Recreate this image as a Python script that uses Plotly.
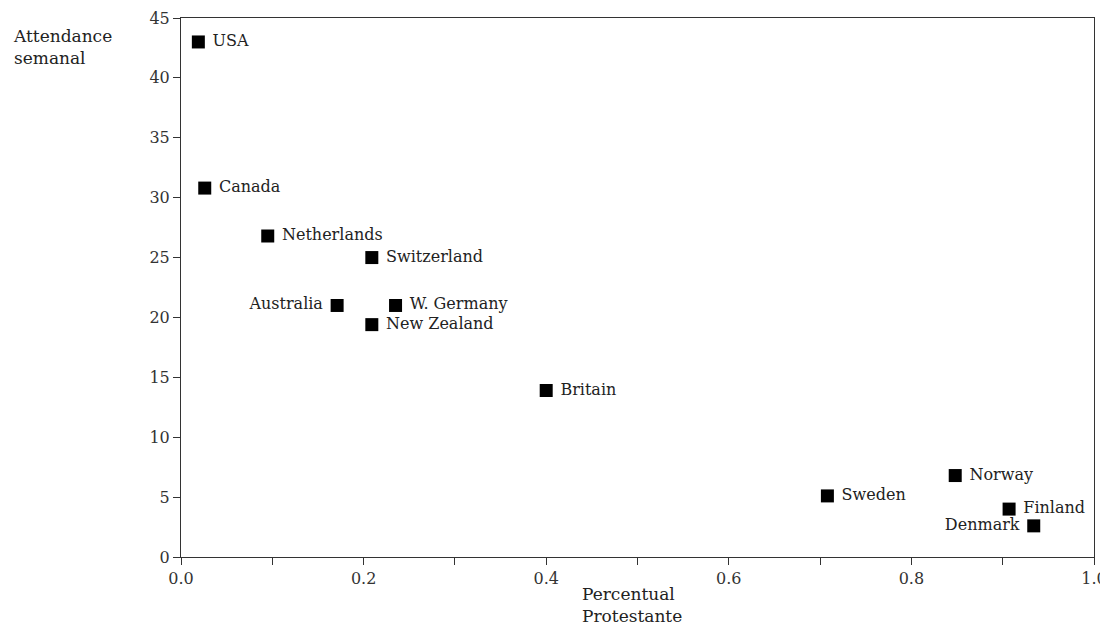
import plotly.graph_objects as go

countries = ["USA", "Canada", "Netherlands", "Switzerland", "Australia", "W. Germany",
             "New Zealand", "Britain", "Sweden", "Norway", "Finland", "Denmark"]
protestant_share = [0.019, 0.026, 0.095, 0.209, 0.171, 0.235, 0.209, 0.400, 0.708, 0.848, 0.907, 0.934]
weekly_attendance = [43.0, 30.8, 26.8, 25.0, 21.0, 21.0, 19.4, 13.9, 5.1, 6.8, 4.0, 2.6]

x_ticks = [0.0, 0.2, 0.4, 0.6, 0.8, 1.0]
x_tick_labels = ["0.0", "0.2", "0.4", "0.6", "0.8", "1.0"]
y_ticks = [0, 5, 10, 15, 20, 25, 30, 35, 40, 45]

left_labels = {"Australia", "Denmark"}
positions = ["middle left" if c in left_labels else "middle right" for c in countries]
texts = [c + " " if c in left_labels else " " + c for c in countries]

FONT = "DejaVu Serif"
FS = 16

fig = go.Figure()
fig.add_trace(go.Scatter(
    x=protestant_share, y=weekly_attendance, mode="markers+text",
    text=texts, textposition=positions,
    marker=dict(symbol="square", size=13, color="black"),
    textfont=dict(family=FONT, size=FS, color="#222"),
    cliponaxis=False, showlegend=False,
))

minor_vals = [round(i / 10, 1) for i in range(11)]
axis_common = dict(showgrid=False, zeroline=False, showline=True, linecolor="#333",
                   linewidth=1, mirror=True, ticks="outside", ticklen=7, tickcolor="#333",
                   automargin=False,
                   tickfont=dict(family=FONT, size=FS, color="#333"))
fig.update_xaxes(range=[0, 1], tickmode="array", tickvals=minor_vals,
                 ticktext=[x_tick_labels[x_ticks.index(v)] if v in x_ticks else "" for v in minor_vals],
                 **axis_common)
fig.update_yaxes(range=[0, 45], tickmode="array", tickvals=y_ticks,
                 ticktext=[str(v) for v in y_ticks], **axis_common)

fig.add_annotation(text="Attendance<br>semanal", xref="paper", yref="paper",
                   x=-0.186, y=0.988, xanchor="left", yanchor="top", align="left",
                   showarrow=False, font=dict(family=FONT, size=17, color="#222"))
fig.add_annotation(text="Percentual<br>Protestante", xref="paper", yref="paper",
                   x=0.437, y=-0.0455, xanchor="left", yanchor="top", align="left",
                   showarrow=False, font=dict(family=FONT, size=17, color="#222"))

fig.update_layout(width=1100, height=618, plot_bgcolor="white", paper_bgcolor="white",
                  margin=dict(l=173, r=14, t=10, b=69, autoexpand=False))
fig.write_html("out.html")
